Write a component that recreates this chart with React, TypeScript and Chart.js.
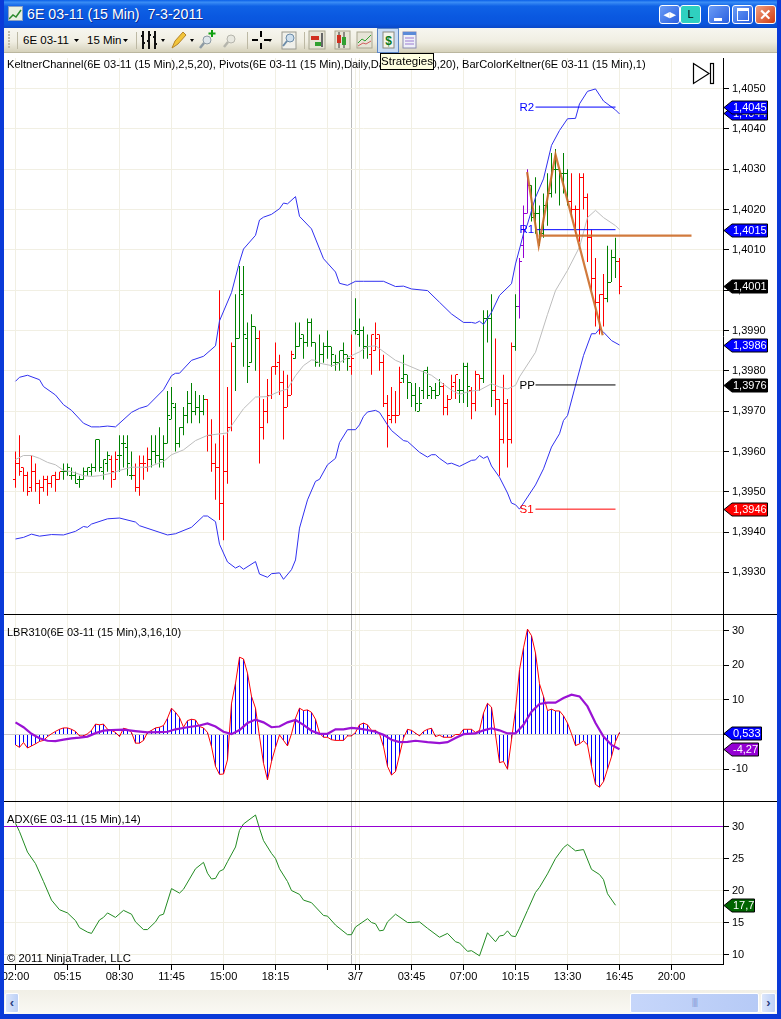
import React, { useEffect, useRef } from "react";
import { Chart, registerables } from "chart.js";

Chart.register(...registerables);

// ---------- price bars, in pips (1/10000) ----------
const opens = [13953,13957,13956,13954,13951,13955,13952,13951,13953,13952,13954,13953,13955,13955,13954,13954,13953,13953,13955,13955,13956,13963,13955,13957,13958,13953,13959,13962,13961,13954,13954,13951,13957,13956,13958,13960,13959,13958,13962,13968,13971,13962,13966,13969,13972,13970,13971,13970,13973,13964,13957,13956,13947,13955,13966,13986,13988,13999,13988,13982,13991,13988,13966,13970,13974,13981,13982,13977,13971,13974,13983,13986,13989,13987,13992,13987,13982,13984,13986,13986,13982,13982,13985,13984,13981,13990,13989,13990,13986,13984,13985,13989,13982,13972,13968,13969,13969,13978,13979,13977,13974,13970,13975,13980,13976,13975,13974,13976,13971,13973,13977,13975,13975,13981,13975,13972,13979,13978,13993,13993,13975,13973,13963,13972,13963,13986,13996,14011,14019,14026,14019,14019,14014,14021,14024,14030,14030,14029,14029,14022,14020,14020,14028,14023,14013,14003,13997,13999,13998,14002,14008,14007];
const highs = [13960,13964,13956,13955,13959,13957,13953,13954,13954,13954,13955,13955,13957,13957,13956,13955,13954,13956,13956,13957,13963,13963,13958,13960,13959,13960,13964,13964,13964,13960,13957,13959,13959,13961,13964,13964,13966,13964,13975,13976,13972,13966,13971,13975,13977,13975,13974,13974,13973,13968,13962,14000,13964,13976,13987,13999,14006,14006,13992,13994,13991,13990,13973,13978,13981,13987,13984,13980,13979,13985,13992,13992,13989,13993,13993,13987,13989,13987,13990,13986,13984,13985,13987,13984,13989,13998,13993,13991,13989,13989,13992,13989,13984,13974,13976,13975,13981,13984,13979,13977,13977,13976,13980,13981,13976,13977,13978,13977,13974,13979,13979,13978,13982,13982,13976,13980,13979,13995,13995,13999,13988,13973,13979,13973,13987,13999,14008,14021,14030,14026,14028,14021,14024,14029,14034,14035,14030,14034,14030,14029,14021,14029,14029,14024,14015,14008,13999,14004,14011,14010,14013,14008];
const lows = [13951,13954,13950,13949,13950,13950,13947,13950,13949,13951,13950,13953,13953,13954,13953,13952,13951,13953,13954,13954,13955,13955,13953,13955,13951,13953,13955,13956,13954,13953,13950,13949,13953,13955,13956,13957,13956,13956,13962,13968,13960,13961,13964,13967,13967,13969,13967,13969,13960,13955,13948,13943,13938,13952,13965,13975,13988,13981,13977,13982,13980,13957,13963,13967,13973,13979,13974,13963,13971,13974,13983,13986,13983,13986,13986,13981,13981,13982,13983,13981,13980,13980,13982,13980,13979,13989,13986,13983,13983,13979,13985,13980,13971,13961,13967,13967,13969,13977,13973,13971,13970,13970,13973,13973,13973,13973,13974,13969,13969,13973,13973,13972,13972,13971,13968,13970,13975,13977,13987,13971,13969,13954,13962,13956,13962,13985,13993,14008,14019,14017,14014,14011,14013,14016,14023,14024,14021,14024,14021,14018,14014,14012,14020,14007,14000,13991,13989,13991,13997,14002,14003,13999];
const closes = [13957,13955,13954,13950,13955,13952,13951,13953,13952,13954,13953,13955,13955,13956,13954,13952,13953,13955,13956,13956,13963,13956,13958,13959,13955,13958,13959,13962,13957,13954,13951,13957,13957,13958,13960,13959,13958,13962,13969,13972,13962,13966,13969,13972,13970,13971,13970,13973,13964,13957,13956,13947,13955,13966,13986,13988,14000,13989,13981,13991,13988,13966,13970,13974,13981,13981,13977,13971,13974,13984,13986,13988,13987,13992,13987,13982,13984,13986,13986,13984,13982,13985,13984,13983,13983,13990,13990,13986,13986,13989,13988,13982,13972,13969,13969,13969,13977,13979,13977,13974,13972,13972,13980,13974,13975,13974,13976,13971,13973,13976,13979,13975,13981,13976,13972,13979,13978,13993,13993,13975,13973,13963,13972,13963,13986,13996,14007,14019,14026,14018,14019,14014,14021,14024,14030,14030,14029,14029,14022,14020,14020,14028,14023,14013,14003,13997,13999,13998,14002,14008,14007,14001];

// colour groups of the bars: first index of each run
const redRuns = [[0,11],[24,25],[30,33],[48,54],[61,69],[84,84],[89,96],[107,110],[114,116],[120,124],[139,147],[151,151]];
const purpleRuns = [[126,128]];

// ---------- Keltner channel (bar index, value in pips) ----------
const upperIdx = [0,1,3,6,7,10,12,14,17,19,21,23,25,29,31,33,37,39,40,41,44,47,50,51,54,56,57,60,61,62,64,66,67,68,70,71,74,77,80,81,83,85,87,92,95,97,99,103,106,109,112,114,115,116,117,119,121,124,125,126,127,128,130,132,134,136,138,140,141,143,145,147,150,151];
const upperVal = [13977.4,13978.4,13978.9,13977.8,13976.1,13974,13971.6,13970.2,13967,13966.1,13966.1,13966.3,13966.1,13969.7,13970.7,13971.3,13975.3,13978.8,13979.4,13979.4,13982.6,13983.6,13986.2,13992.4,13999.4,14007,14010.2,14013.6,14017.4,14018.1,14018.8,14020.2,14021.6,14021.4,14023.2,14018.3,14015.2,14007.8,14004.5,14001.7,14001.2,14002.2,14002.2,14002.2,14000.9,14001,14000.3,13999.9,13997,13994.1,13992,13992,13991.8,13992.3,13991.5,13994.5,13998.7,14001.6,14006.5,14010.2,14014,14016.4,14023,14027.6,14035.9,14039.6,14042.5,14042.6,14046.2,14049.3,14049.9,14046.9,14044.7,14043.7];
const lowerIdx = [0,2,4,6,9,12,15,17,18,19,23,26,30,31,38,40,44,47,48,50,51,53,55,56,57,60,61,63,64,66,67,69,70,71,73,75,76,78,80,81,83,85,86,87,88,90,91,93,94,97,98,101,103,104,105,106,108,109,111,114,115,116,117,118,119,121,123,124,125,126,130,132,134,136,137,138,140,142,144,145,146,147,149,151];
const lowerVal = [13938.3,13938.7,13939.5,13939,13939.4,13939.3,13940.2,13941.4,13941.2,13942,13943.3,13943.5,13942.5,13941.6,13939.3,13939.6,13941.2,13944,13944,13942.6,13937,13932.6,13931.1,13931.6,13930.8,13932.7,13929.6,13928.8,13929.7,13929.9,13928.3,13930.7,13933.1,13941,13948,13952.6,13953.1,13956.7,13958.3,13962.2,13965.4,13965.4,13966.6,13968.7,13969.8,13970.2,13969.7,13966.6,13965.2,13962.7,13962.5,13959.8,13958.6,13959.2,13959.2,13958.3,13956.9,13957.1,13956.3,13957.8,13957.9,13959,13958.3,13958.8,13956.4,13953.6,13949.7,13947.2,13946.8,13945.7,13951.7,13955.7,13961.1,13964.4,13967.7,13968.9,13976.4,13983.8,13989.2,13989.2,13990.4,13989.6,13987.5,13986.4];
const midIdx = [0,2,4,6,8,10,12,14,17,19,21,24,26,29,33,37,39,42,45,48,53,54,57,60,63,66,68,70,72,74,75,76,79,80,83,86,88,90,91,95,97,102,104,109,111,114,116,119,121,123,125,126,130,133,135,138,141,143,145,147,150,151];
const midVal = [13958,13959,13959,13958.3,13957.3,13956.7,13955.3,13955,13954,13953.8,13954,13954.6,13955.3,13956.1,13956.1,13957.5,13959.2,13960.4,13962.7,13964,13964.6,13966.4,13970.6,13973.5,13973.6,13974.9,13975.5,13978.8,13981.3,13982.7,13982.6,13981.9,13981.3,13981.4,13983.3,13984.7,13986,13986.2,13985.5,13982.6,13981.8,13979.7,13978.9,13975.2,13974.2,13975,13975.2,13976.8,13976,13975.5,13976.4,13978.5,13984.6,13994,13999.9,14004.9,14010.7,14018,14019.8,14018,14016,14015];

// ---------- pivots ----------
const pivotNames = ["R2", "R1", "PP", "S1"];
const pivotValues = [14045.4, 14015, 13976.5, 13945.7];
const pivotColors = ["#0000ff", "#0000ff", "#000000", "#ff0000"];
const pivotStart = 130;
const pivotEnd = 150;
const pivotLabelAt = 126;

// ---------- hand-drawn orange lines ----------
const zigzagIdx = [127.9, 130.8, 135, 146.8];
const zigzagVal = [14029.3, 14011, 14033.6, 13988.8];
const hLineIdx = [130.8, 169];
const hLineVal = [14013.5, 14013.5];

// ---------- LBR310 ----------
const lbrFast = [-3,-3.7,-2.3,-3.9,-3.3,-2.7,-2,-1.7,-0.6,0.2,0.9,1.5,1.9,1.9,1.5,0.9,-0.4,-0.4,0.2,1.2,3,2.8,3,1.5,1.2,0.6,-0.6,1.8,1.5,0.6,-2.5,-2.5,-1.7,0.6,1.2,1.9,2.1,2.6,4.7,7.6,6.4,4.9,2.1,4,4.4,4.2,2.3,1.9,0.6,-3.5,-9.2,-11.5,-11.4,-7.3,9,14.8,22.3,21.8,17.7,11,7.6,-0.6,-8.3,-13.1,-7.8,-3.7,-0.1,-1.7,-3.3,0.2,4.7,7.6,6.9,7.1,6.4,4.4,0.4,-0.8,-0.8,-1.5,-1.7,-1.7,-1.7,-0.4,-0.4,0.6,2.8,3.3,2.8,1.2,1.2,0.2,-3.5,-9.2,-11.7,-10.7,-5.9,-1,1.5,1.2,0.4,-0.4,0.9,1.5,1.8,-0.6,-0.2,-0.8,-0.8,-0.8,0,0,1.5,1.5,1.5,0.6,1.2,6.2,9,7.9,-0.1,-8.1,-7.8,-10,-1.5,7.1,18.7,25,30.4,28.5,23.5,14.6,11,6.9,7.3,6.8,6.8,5.4,3.3,0.2,-3.2,-2.7,-1.8,-3,-9.2,-14.4,-15.2,-13.6,-10,-6.4,-2,0.6];
const lbrSlowIdx = [0,2,4,6,8,10,12,14,16,18,20,22,24,27,30,33,36,38,40,43,46,48,50,52,54,56,58,60,62,64,66,68,70,72,74,76,78,80,82,84,86,88,90,92,94,96,98,100,103,106,108,110,112,115,117,119,121,123,125,127,129,131,133,135,137,139,141,143,145,147,149,151];
const lbrSlowVal = [3.5,2.1,0.2,-1.1,-1.8,-1.9,-1.5,-1.1,-0.9,-0.6,0.4,1.1,1.3,1.4,1,0.6,0.7,0.8,1.5,2.1,2.6,3.2,2.3,0.8,0.1,1.3,3.3,4.3,3.5,2.1,2.3,3.5,4.2,2.8,1.1,0.2,0.2,1.5,1.5,1.9,1.7,1.3,0.8,-0.1,-1.5,-2.2,-2.1,-1.8,-2.2,-2.5,-2.2,-1,0.1,0.3,1.2,1.8,1.2,0.3,0.3,2.8,6.6,8.8,9.2,9.2,10.5,11.5,11,8.1,3.3,-0.6,-3,-4.27];

// ---------- ADX ----------
const adxIdx = [0,1,3,5,7,9,11,13,15,16,18,19,21,22,23,25,27,29,30,32,33,35,36,37,39,41,42,45,47,48,49,50,51,52,53,55,56,57,60,61,62,64,65,66,68,69,71,72,74,77,78,80,83,84,85,88,89,90,91,92,93,95,98,99,101,103,106,108,110,111,113,114,116,118,120,121,122,123,124,125,126,128,130,131,133,135,137,138,139,140,142,144,146,147,148,150];
const adxVal = [30.5,29.2,26,24.2,21.4,18.5,17,16.5,15.3,14.2,13.5,13.3,15.4,15.8,16.5,15.8,16.9,16.3,15.1,13.9,13.9,15.1,16.1,16.3,20.3,19.6,20.2,23.4,24.4,22.7,21.8,21.9,23,23.3,24.5,26.8,29.4,30.4,31.8,29.7,27.8,25.8,25,23.4,21.4,20,19.4,18.5,18.1,16.1,16,14.6,13.1,13.1,14.3,15.6,15,14.8,13.7,13.8,15.1,16.3,15,15,15.1,14.1,12.7,13.3,12,11.8,10.5,10.6,9.8,13.4,12,12.9,13,13.7,12.9,12.8,14.1,16.9,19.7,20.5,22.6,25,26.7,27.2,26.7,26.2,26.4,23.3,22.5,21.7,19.5,17.7];
const adxLevel = 30;

// ---------- axes ----------
const xTickIdx = [0,13,26,39,52,65,78,84,85,86,99,112,125,138,151,164];
const xTickLabels = ["02:00","05:15","08:30","11:45","15:00","18:15","","","3/7","","03:45","07:00","10:15","13:30","16:45","20:00"];
const priceTicks = [1.405,1.404,1.403,1.402,1.401,1.4,1.399,1.398,1.397,1.396,1.395,1.394,1.393];
const lbrTicks = [30,20,10,0,-10];
const adxTicks = [30,25,20,15,10];

// ---------- value flags on the axis ----------
const priceFlagValues = [1.4044,1.40454,1.4015,1.4001,1.39865,1.39765,1.39457];
const priceFlagText = ["1,4044","1,4045","1,4015","1,4001","1,3986","1,3976","1,3946"];
const priceFlagColor = ["#0000ff","#0000ff","#0000ff","#000000","#0000ff","#000000","#ff0000"];
const lbrFlagValues = [0.533,-4.27];
const lbrFlagText = ["0,533","-4,27"];
const lbrFlagColor = ["#0000ff","#9400d3"];
const adxFlagValues = [17.7];
const adxFlagText = ["17,7"];
const adxFlagColor = ["#006400"];

const toPrice = (p: number) => p / 10000;
const FONT = '"Liberation Sans", Arial, sans-serif';
const GRID = "#f1efe3";
const barColor = (i: number) => {
  if (purpleRuns.some(([a, b]) => i >= a && i <= b)) return "#9400d3";
  if (redRuns.some(([a, b]) => i >= a && i <= b)) return "#ff0000";
  return "#008000";
};
const barColors = highs.map((_, i) => barColor(i));
const pairs = (xs: number[], ys: number[], f = (v: number) => v) => xs.map((x, i) => ({ x, y: f(ys[i]) }));

const X_MIN = -2.875;
const X_MAX = 176.875;

const noPad = (s: any) => { s.paddingTop = 0; s.paddingBottom = 0; s.paddingLeft = 0; s.paddingRight = 0; };

function xScale(showLabels: boolean) {
  return {
    type: "linear",
    min: X_MIN,
    max: X_MAX,
    offset: false,
    afterBuildTicks: (s: any) => { s.ticks = xTickIdx.map((value) => ({ value })); },
    afterFit: (s: any) => { s.height = showLabels ? 26 : 0; noPad(s); },
    border: { display: showLabels, color: "#000000", width: 1 },
    grid: {
      offset: false,
      drawTicks: showLabels,
      tickLength: 6,
      tickColor: (c: any) => (c.tick && c.tick.value === 84 ? "rgba(0,0,0,0)" : "#000000"),
      color: (c: any) => (c.tick && c.tick.value === 84 ? "#b9b9b9" : GRID),
      lineWidth: 1,
    },
    ticks: {
      display: showLabels,
      autoSkip: false,
      maxRotation: 0,
      minRotation: 0,
      padding: 0,
      color: "#000000",
      font: { family: FONT, size: 11 },
      callback: (v: number) => { const k = xTickIdx.indexOf(v); return k >= 0 ? xTickLabels[k] : ""; },
    },
  };
}

function yScale(min: number, max: number, ticks: number[], fmt: (v: number) => string, zero = false) {
  return {
    type: "linear",
    position: "right",
    min,
    max,
    afterBuildTicks: (s: any) => { s.ticks = ticks.map((value) => ({ value })); },
    afterFit: (s: any) => { s.width = 58; noPad(s); },
    border: { display: true, color: "#000000", width: 1 },
    grid: {
      color: (c: any) => (zero && c.tick && c.tick.value === 0 ? "#cccccc" : GRID),
      tickColor: "#000000",
      tickLength: 6,
      lineWidth: 1,
    },
    ticks: {
      autoSkip: false,
      padding: 3,
      color: "#000000",
      font: { family: FONT, size: 11 },
      callback: (v: number) => fmt(v),
    },
  };
}

function flagPlugin(values: number[], text: string[], colors: string[]) {
  return {
    id: "flags",
    afterDraw(chart: any) {
      const { ctx, scales } = chart;
      const left = 724;
      ctx.save();
      ctx.font = `11px ${FONT}`;
      values.forEach((v, i) => {
        const y = Math.round(scales.y.getPixelForValue(v)) + 0.5;
        const w = ctx.measureText(text[i]).width;
        const right = Math.round(left + 9 + w) + 0.5;
        ctx.beginPath();
        ctx.moveTo(left, y);
        ctx.lineTo(left + 8, y - 6.5);
        ctx.lineTo(right, y - 6.5);
        ctx.lineTo(right, y + 6.5);
        ctx.lineTo(left + 8, y + 6.5);
        ctx.closePath();
        ctx.fillStyle = colors[i];
        ctx.fill();
        ctx.strokeStyle = "#000000";
        ctx.lineWidth = 1;
        ctx.stroke();
        ctx.fillStyle = "#ffffff";
        ctx.textBaseline = "middle";
        ctx.textAlign = "left";
        ctx.fillText(text[i], left + 9, y + 0.5);
      });
      ctx.restore();
    },
  };
}

const pivotLabelPlugin = {
  id: "pivotLabels",
  afterDatasetsDraw(chart: any) {
    const { ctx, scales } = chart;
    ctx.save();
    ctx.font = `11.5px ${FONT}`;
    ctx.textBaseline = "middle";
    pivotNames.forEach((n, i) => {
      ctx.fillStyle = pivotColors[i];
      ctx.fillText(n, scales.x.getPixelForValue(pivotLabelAt), scales.y.getPixelForValue(toPrice(pivotValues[i])) + 0.5);
    });
    ctx.restore();
  },
};

// keeps the open/close ticks on whole pixel rows so they stay crisp, as in the platform's drawing
const snapTicksPlugin = {
  id: "snapTicks",
  afterDatasetsUpdate(chart: any) {
    chart.data.datasets.forEach((d: any, k: number) => {
      if (d.type !== "scatter") return;
      chart.getDatasetMeta(k).data.forEach((p: any) => { p.y = Math.floor(p.y) + 0.5; });
    });
  },
};

const baseOptions = (top: number, scales: any) => ({
  animation: false,
  responsive: false,
  devicePixelRatio: 1,
  events: [],
  layout: { autoPadding: false, padding: { left: 4, top, right: 0, bottom: 0 } },
  plugins: { legend: { display: false }, tooltip: { enabled: false }, title: { display: false } },
  scales,
});

const lineDs = (data: any[], color: string, width: number, order: number) => ({
  type: "line",
  data,
  borderColor: color,
  borderWidth: width,
  pointRadius: 0,
  tension: 0,
  fill: false,
  order,
});

function useChart(build: () => any) {
  const ref = useRef<HTMLCanvasElement>(null);
  useEffect(() => {
    const chart = new Chart(ref.current as HTMLCanvasElement, build());
    return () => chart.destroy();
  }, []);
  return ref;
}

function priceConfig() {
  const idx = highs.map((_, i) => i);
  const tick = (arr: number[], dx: number) => idx.map((i) => ({ x: i + dx, y: toPrice(arr[i]) }));
  const tickDs = (arr: number[], dx: number) => ({
    type: "scatter",
    data: tick(arr, dx),
    showLine: false,
    pointStyle: "line",
    pointRadius: 1,
    pointBorderWidth: 1,
    pointBorderColor: barColors,
    pointBackgroundColor: barColors,
    order: 6,
  });
  return {
    type: "bar",
    data: {
      datasets: [
        {
          type: "bar",
          data: idx.map((i) => ({ x: i, y: [toPrice(lows[i]), toPrice(highs[i])] })),
          backgroundColor: barColors,
          barThickness: 1,
          inflateAmount: 0,
          grouped: false,
          borderWidth: 0,
          order: 6,
        },
        tickDs(opens, -0.375),
        tickDs(closes, 0.375),
        lineDs(pairs(upperIdx, upperVal, toPrice), "#3030f0", 1, 4),
        lineDs(pairs(lowerIdx, lowerVal, toPrice), "#3030f0", 1, 4),
        lineDs(pairs(midIdx, midVal, toPrice), "#bdbdbd", 1, 4),
        ...pivotValues.map((v, i) =>
          lineDs([{ x: pivotStart, y: toPrice(v) }, { x: pivotEnd, y: toPrice(v) }], pivotColors[i], 1, 3)
        ),
        lineDs(pairs(zigzagIdx, zigzagVal, toPrice), "rgba(204,108,40,0.9)", 2.2, 1),
        lineDs(pairs(hLineIdx, hLineVal, toPrice), "rgba(204,108,40,0.9)", 2.2, 1),
      ],
    },
    options: baseOptions(5, {
      x: xScale(false),
      y: yScale(1.39197, 1.405757, priceTicks, (v) => v.toFixed(4).replace(".", ",")),
    }),
    plugins: [snapTicksPlugin, pivotLabelPlugin, flagPlugin(priceFlagValues, priceFlagText, priceFlagColor)],
  };
}

function lbrConfig() {
  const idx = lbrFast.map((_, i) => i);
  return {
    type: "bar",
    data: {
      datasets: [
        {
          type: "bar",
          data: idx.map((i) => ({ x: i, y: lbrFast[i] })),
          backgroundColor: "#0000ff",
          barThickness: 1,
          inflateAmount: 0,
          grouped: false,
          borderWidth: 0,
          order: 5,
        },
        lineDs(idx.map((i) => ({ x: i, y: lbrFast[i] })), "#ff0000", 1, 3),
        lineDs(pairs(lbrSlowIdx, lbrSlowVal), "#9a12d4", 2.2, 2),
      ],
    },
    options: baseOptions(0, {
      x: xScale(false),
      y: yScale(-19.18, 34.47, lbrTicks, (v) => (v === 0 ? "" : String(v)), true),
    }),
    plugins: [flagPlugin(lbrFlagValues, lbrFlagText, lbrFlagColor)],
  };
}

function adxConfig() {
  return {
    type: "line",
    data: {
      datasets: [
        lineDs(pairs(adxIdx, adxVal), "#228b22", 1, 3),
        lineDs([{ x: X_MIN, y: adxLevel }, { x: X_MAX, y: adxLevel }], "#9400d3", 1.2, 2),
      ],
    },
    options: baseOptions(0, {
      x: xScale(true),
      y: yScale(8.52, 33.83, adxTicks, (v) => String(v)),
    }),
    plugins: [flagPlugin(adxFlagValues, adxFlagText, adxFlagColor)],
  };
}

const abs = (left: number, top: number, width?: number, height?: number): React.CSSProperties => ({
  position: "absolute", left, top, width, height,
});

const textStyle = (left: number, top: number, size = 11.5): React.CSSProperties => ({
  position: "absolute", left, top, font: `${size}px/14px ${FONT}`, color: "#000", whiteSpace: "nowrap",
});

function TitleButton({ left, width, bg, children }: any) {
  return (
    <div style={{ ...abs(left, 5, width, 19), boxSizing: "border-box", border: "1px solid #fff", borderRadius: 3, background: bg, color: "#fff", textAlign: "center", font: `bold 11px/17px ${FONT}`, overflow: "hidden" }}>
      {children}
    </div>
  );
}

function Toolbar() {
  return (
    <div style={{ ...abs(0, 28, 781, 25), background: "linear-gradient(#f7f6f0,#f0eee2 55%,#d6d2bc 95%,#a8a48c)" }}>
      <svg width="781" height="25" style={{ position: "absolute", left: 0, top: 0 }}>
        {[3, 6, 9, 12, 15, 18].map((y) => <rect key={y} x="8" y={y} width="2" height="2" fill="#c0bca6" />)}
        {[17, 136, 247, 304].map((x) => <line key={x} x1={x + 0.5} y1="4" x2={x + 0.5} y2="21" stroke="#bdb9a4" />)}
        <path d="M74 11l5 0-2.5 3z M123 11l5 0-2.5 3z M161 11l4 0-2 3z M190 11l4 0-2 3z M268 11l4 0-2 3z" fill="#000" />
        {/* bars */}
        <path d="M143 3v18M149 3v18M155 3v18M141 8h2M143 15h2M147 13h2M149 7h2M153 9h2M155 16h2" stroke="#111" strokeWidth="2" />
        {/* pencil */}
        <path d="M172 20l3-7 8-9 3 3-8 9z" fill="#f2c53a" stroke="#b5842a" />
        {/* zoom + */}
        <circle cx="207" cy="12" r="4" fill="#dfe6ea" stroke="#8c9aa4" />
        <path d="M204 15l-4 5" stroke="#8c9aa4" strokeWidth="2.5" />
        <path d="M212 2v7M208.5 5.5h7" stroke="#10a010" strokeWidth="2" />
        {/* zoom - */}
        <circle cx="231" cy="11" r="4" fill="#e8e8e0" stroke="#b5b5ac" />
        <path d="M228 14l-4 5" stroke="#b5b5ac" strokeWidth="2.5" />
        {/* crosshair */}
        <path d="M261 3v6M261 15v6M252 12h6M264 12h6" stroke="#000" strokeWidth="2" />
        {/* magnifier on page */}
        <rect x="282" y="4" width="14" height="17" fill="#f0f0ea" stroke="#9a9a90" />
        <circle cx="290" cy="10" r="4" fill="#cfe0ee" stroke="#6c8ca8" />
        <path d="M287 13l-4 5" stroke="#6c8ca8" strokeWidth="2" />
        {/* chart toolboxes */}
        <rect x="309" y="3" width="16" height="18" fill="#e6e4d6" stroke="#a8a690" />
        <rect x="311" y="8" width="8" height="4" fill="#d03020" /><rect x="315" y="14" width="8" height="4" fill="#30a030" /><rect x="321" y="5" width="2" height="14" fill="#666" />
        <rect x="335" y="3" width="15" height="18" fill="#e6e4d6" stroke="#a8a690" />
        <path d="M339 4v16M344 4v16" stroke="#333" /><rect x="337" y="7" width="4" height="8" fill="#d03020" /><rect x="342" y="9" width="4" height="8" fill="#30a030" />
        <rect x="357" y="4" width="15" height="16" fill="#e6e4d6" stroke="#a8a690" />
        <path d="M358 15l4-4 3 2 6-6" stroke="#30a030" fill="none" /><path d="M358 18l5-3 3 1 5-3" stroke="#d06060" fill="none" />
        {/* strategies, selected */}
        <rect x="377.5" y="0.5" width="21" height="24" fill="#c9dcf5" stroke="#5c86c4" />
        <rect x="383" y="4" width="11" height="16" fill="#f4f4ec" stroke="#8a8a80" />
        <text x="388.5" y="17" fontFamily={FONT} fontWeight="bold" fontSize="12" fill="#0a7a20" textAnchor="middle">$</text>
        {/* table */}
        <rect x="403" y="4" width="13" height="16" fill="#eef0f8" stroke="#8a8ab0" />
        <rect x="403" y="4" width="13" height="3" fill="#5a8ad8" />
        <path d="M405 10h9M405 13h9M405 16h9" stroke="#9a7ad0" />
      </svg>
      <div style={textStyle(23, 5)}>6E 03-11</div>
      <div style={textStyle(87, 5)}>15 Min</div>
    </div>
  );
}

export default function App() {
  const priceRef = useChart(priceConfig);
  const lbrRef = useChart(lbrConfig);
  const adxRef = useChart(adxConfig);

  const edge = "#0a3ad8";
  return (
    <div style={{ position: "fixed", left: 0, top: 0, width: 781, height: 1019, overflow: "hidden", background: "#fff" }}>
      <canvas ref={priceRef} width={781} height={561} style={{ ...abs(0, 53, 781, 561), display: "block" }} />
      <div style={{ ...abs(4, 614, 777, 1), background: "#000" }} />
      <canvas ref={lbrRef} width={781} height={186} style={{ ...abs(0, 615, 781, 186), display: "block" }} />
      <div style={{ ...abs(4, 801, 777, 1), background: "#000" }} />
      <canvas ref={adxRef} width={781} height={188} style={{ ...abs(0, 802, 781, 188), display: "block" }} />

      <div style={textStyle(7, 57, 11.1)}>KeltnerChannel(6E 03-11 (15 Min),2,5,20), Pivots(6E 03-11 (15 Min),Daily,DailyBars,0,0,20), BarColorKeltner(6E 03-11 (15 Min),1)</div>
      <div style={textStyle(7, 625, 11)}>LBR310(6E 03-11 (15 Min),3,16,10)</div>
      <div style={textStyle(7, 812, 11.1)}>ADX(6E 03-11 (15 Min),14)</div>
      <div style={textStyle(7, 951, 11.3)}>© 2011 NinjaTrader, LLC</div>

      <svg width="24" height="24" style={{ ...abs(692, 62) }}>
        <path d="M1.5 1.5L17 11.5 1.5 21.5z" fill="none" stroke="#000" strokeWidth="1.2" />
        <rect x="18.5" y="1.5" width="3" height="20" fill="none" stroke="#000" strokeWidth="1.2" />
      </svg>

      {/* title bar */}
      <div style={{ ...abs(0, 0, 781, 28), background: "linear-gradient(#0a5fe8 0,#3a8df5 8%,#0f62e6 22%,#0a58e0 60%,#0a55dd 85%,#0a48c8 100%)" }} />
      <div style={{ position: "absolute", left: 8, top: 6, width: 15, height: 15, background: "#e8f0e0", border: "1px solid #8aa0c0", boxSizing: "border-box" }}>
        <svg width="13" height="13"><path d="M0 11l4-4 3 2 5-7" stroke="#2a8a2a" strokeWidth="1.5" fill="none" /></svg>
      </div>
      <div style={{ position: "absolute", left: 27, top: 6, color: "#fff", font: `14.2px/17px ${FONT}`, whiteSpace: "pre", textShadow: "1px 1px 0 #0a2a90" }}>6E 03-11 (15 Min)  7-3-2011</div>
      <TitleButton left={659} width={21} bg="linear-gradient(135deg,#6a9cf5,#2a5fe0)">◂▸</TitleButton>
      <TitleButton left={680} width={21} bg="#2fd0c0"><span style={{ color: "#000", fontWeight: "normal" }}>L</span></TitleButton>
      <TitleButton left={708} width={22} bg="linear-gradient(135deg,#6a9cf5,#2a5fe0)"><div style={{ ...abs(5, 12, 8, 3), background: "#fff" }} /></TitleButton>
      <TitleButton left={732} width={21} bg="linear-gradient(135deg,#6a9cf5,#2a5fe0)"><div style={{ ...abs(4, 2, 12, 13), boxSizing: "border-box", border: "1px solid #fff", borderTop: "3px solid #fff" }} /></TitleButton>
      <TitleButton left={755} width={21} bg="linear-gradient(135deg,#f0a080,#d03a10)"><span style={{ fontSize: 15 }}>✕</span></TitleButton>

      <Toolbar />

      {/* tooltip */}
      <div style={{ ...abs(380, 53, 54, 17), boxSizing: "border-box", border: "1px solid #000", background: "#ffffe1", font: `11.5px/15px ${FONT}`, textAlign: "center", color: "#000" }}>Strategies</div>

      {/* window frame and scrollbar */}
      <div style={{ ...abs(0, 0, 4, 1019), background: edge }} />
      <div style={{ ...abs(777, 0, 4, 1019), background: edge }} />
      <div style={{ ...abs(0, 1014, 781, 5), background: edge }} />
      <div style={{ ...abs(4, 990, 773, 24), background: "linear-gradient(#f1efe6,#faf9f4)" }} />
      <div style={{ ...abs(5, 993, 14, 20), borderRadius: 2, background: "linear-gradient(90deg,#dce6fb,#bcd0f6)", border: "1px solid #fff", boxSizing: "border-box", color: "#2a3f80", font: `bold 13px/17px ${FONT}`, textAlign: "center" }}>‹</div>
      <div style={{ ...abs(630, 993, 129, 20), borderRadius: 2, background: "linear-gradient(90deg,#c6d6fa,#b6caf6)", border: "1px solid #fff", boxSizing: "border-box", textAlign: "center", color: "#8aa0d8", font: `9px/17px ${FONT}`, letterSpacing: -1 }}>||||</div>
      <div style={{ ...abs(761, 993, 15, 20), borderRadius: 2, background: "linear-gradient(90deg,#dce6fb,#bcd0f6)", border: "1px solid #fff", boxSizing: "border-box", color: "#2a3f80", font: `bold 13px/17px ${FONT}`, textAlign: "center" }}>›</div>
    </div>
  );
}
